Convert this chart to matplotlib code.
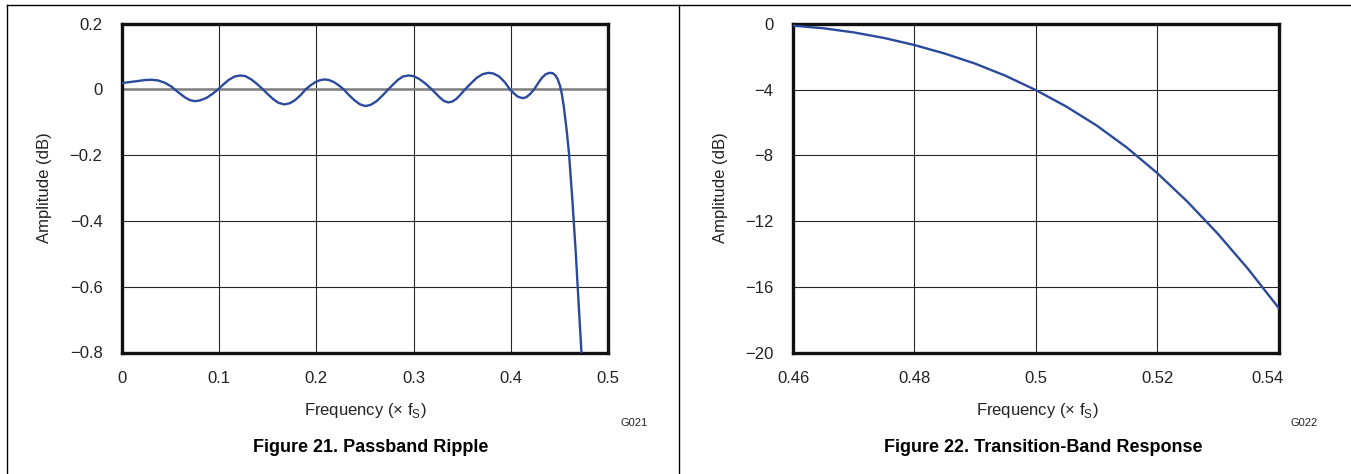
import matplotlib
matplotlib.use("Agg")
import matplotlib.pyplot as plt
from matplotlib.lines import Line2D
from matplotlib.transforms import ScaledTranslation

plt.rcParams['font.family'] = ['Liberation Sans', 'DejaVu Sans']

# ---- data: Figure 21, passband ripple ----
ripple_freq = [0.0, 0.008, 0.016, 0.023, 0.030, 0.037, 0.044, 0.051,
               0.054, 0.060, 0.065, 0.070, 0.075, 0.080, 0.087, 0.093, 0.099,
               0.104, 0.110, 0.116, 0.1214, 0.127, 0.133, 0.139, 0.145,
               0.150, 0.156, 0.161, 0.167, 0.173, 0.178, 0.184, 0.189,
               0.194, 0.199, 0.204, 0.2085, 0.213, 0.218, 0.223, 0.228,
               0.233, 0.239, 0.245, 0.2505, 0.256, 0.262, 0.268, 0.274,
               0.279, 0.284, 0.289, 0.2946, 0.300, 0.306, 0.312, 0.3186,
               0.323, 0.327, 0.331, 0.3357, 0.340, 0.344, 0.348, 0.353,
               0.359, 0.365, 0.371, 0.3769, 0.382, 0.388, 0.394, 0.399,
               0.403, 0.407, 0.412, 0.416, 0.420, 0.424,
               0.428, 0.432, 0.436, 0.440, 0.443, 0.446, 0.448, 0.4505,
               0.4525, 0.4544, 0.4575, 0.4599, 0.4634, 0.4669, 0.4696, 0.4727, 0.474]
ripple_db = [0.019, 0.022, 0.025, 0.028, 0.029, 0.027, 0.020, 0.008,
             0.0, -0.014, -0.025, -0.033, -0.036, -0.034, -0.026, -0.014, 0.0,
             0.014, 0.029, 0.039, 0.042, 0.040, 0.030, 0.016, 0.0,
             -0.015, -0.031, -0.041, -0.046, -0.042, -0.033, -0.017, 0.0,
             0.012, 0.022, 0.028, 0.030, 0.028, 0.022, 0.012, 0.0,
             -0.016, -0.033, -0.046, -0.051, -0.047, -0.036, -0.019, 0.0,
             0.015, 0.029, 0.039, 0.042, 0.040, 0.031, 0.018, 0.0,
             -0.013, -0.025, -0.035, -0.040, -0.037, -0.029, -0.017, 0.0,
             0.018, 0.035, 0.046, 0.050, 0.048, 0.039, 0.021, 0.0,
             -0.012, -0.022, -0.027, -0.024, -0.014, 0.0,
             0.018, 0.035, 0.046, 0.050, 0.049, 0.042, 0.032, 0.012,
             -0.014, -0.05, -0.125, -0.196, -0.339, -0.50, -0.642, -0.80, -0.86]
ripple_xticks = [0, 0.1, 0.2, 0.3, 0.4, 0.5]
ripple_xticklabels = ['0', '0.1', '0.2', '0.3', '0.4', '0.5']
ripple_yticks = [0.2, 0, -0.2, -0.4, -0.6, -0.8]
ripple_yticklabels = ['0.2', '0', '\u22120.2', '\u22120.4', '\u22120.6', '\u22120.8']

# ---- data: Figure 22, transition band ----
trans_freq = [0.46, 0.465, 0.470, 0.475, 0.48, 0.485, 0.49, 0.495, 0.50, 0.505,
              0.51, 0.515, 0.52, 0.525, 0.53, 0.535, 0.5401]
trans_db = [-0.10, -0.26, -0.51, -0.85, -1.28, -1.80, -2.41, -3.15, -4.02, -5.02,
            -6.17, -7.52, -9.07, -10.82, -12.77, -14.92, -17.32]
trans_xticks = [0.46, 0.48, 0.50, 0.52, 0.54]
trans_xticklabels = ['0.46', '0.48', '0.5', '0.52', '0.54']
trans_yticks = [0, -4, -8, -12, -16, -20]
trans_yticklabels = ['0', '\u22124', '\u22128', '\u221212', '\u221216', '\u221220']

W, H = 1351, 474
fig = plt.figure(figsize=(W / 100, H / 100), dpi=100)

def fx(x):
    return x / W

def fy(y):
    return 1 - y / H

curve_color = '#2b4a9c'
grid_color = '#262626'

def style(ax, xt, xtl, yt, ytl):
    ax.set_xticks(xt)
    ax.set_xticklabels(xtl)
    ax.set_yticks(yt)
    ax.set_yticklabels(ytl)
    ax.tick_params(length=0, labelsize=12, colors='#222222')
    ax.tick_params(axis='y', pad=14)
    ax.tick_params(axis='x', pad=13)
    for s in ax.spines.values():
        s.set_linewidth(2.4)
        s.set_color('#111111')
    ax.grid(True, color=grid_color, linewidth=0.8)
    ax.set_axisbelow(True)

# left axes
ax1 = fig.add_axes([fx(122), fy(352.5), fx(608 - 122), (352.5 - 23.5) / H])
ax1.set_xlim(0, 0.5)
ax1.set_ylim(-0.8, 0.2)
style(ax1, ripple_xticks, ripple_xticklabels, ripple_yticks, ripple_yticklabels)
ax1.axhline(0, color='#808080', linewidth=1.8, zorder=1.5)
ax1.plot(ripple_freq, ripple_db, color=curve_color, linewidth=1.7, zorder=3,
         solid_joinstyle='round', solid_capstyle='round')

# right axes
ax2 = fig.add_axes([fx(793), fy(352.5), fx(1278.5 - 793), (352.5 - 24) / H])
ax2.set_xlim(0.46, 0.54)
ax2.set_ylim(-20, 0)
style(ax2, trans_xticks, trans_xticklabels, trans_yticks, trans_yticklabels)
ax2.plot(trans_freq, trans_db, color=curve_color, linewidth=1.7, zorder=3,
         solid_joinstyle='round', solid_capstyle='round')
# last tick label sits slightly left of the frame edge in the reference
last = ax2.get_xticklabels()[-1]
last.set_transform(last.get_transform() + ScaledTranslation(-0.11, 0, fig.dpi_scale_trans))

# axis labels
xlab = 'Frequency (\u00d7 f$_{\\mathregular{S}}$)'
fig.text(fx(365), fy(410), xlab, ha='center', va='center', fontsize=12, color='#222222')
fig.text(fx(1037), fy(410), xlab, ha='center', va='center', fontsize=12, color='#222222')
fig.text(fx(45), fy(188), 'Amplitude (dB)', ha='center', va='center', rotation=90,
         fontsize=12, color='#222222')
fig.text(fx(720), fy(188), 'Amplitude (dB)', ha='center', va='center', rotation=90,
         fontsize=12, color='#222222')

# figure codes
fig.text(fx(634), fy(423), 'G021', ha='center', va='center', fontsize=8, color='#222222')
fig.text(fx(1304), fy(423), 'G022', ha='center', va='center', fontsize=8, color='#222222')

# captions
fig.text(fx(371), fy(448), 'Figure 21. Passband Ripple', ha='center', va='center',
         fontsize=13, fontweight='bold', color='black')
fig.text(fx(1043), fy(448), 'Figure 22. Transition-Band Response', ha='center', va='center',
         fontsize=13, fontweight='bold', color='black')

# outer frame lines
for (x0, y0, x1, y1) in [(7, 5, 1351, 5), (7, 5, 7, 474), (679, 5, 679, 474)]:
    fig.add_artist(Line2D([fx(x0), fx(x1)], [fy(y0), fy(y1)], color='black',
                          linewidth=1.0, transform=fig.transFigure))

fig.savefig('out.png', dpi=100)
